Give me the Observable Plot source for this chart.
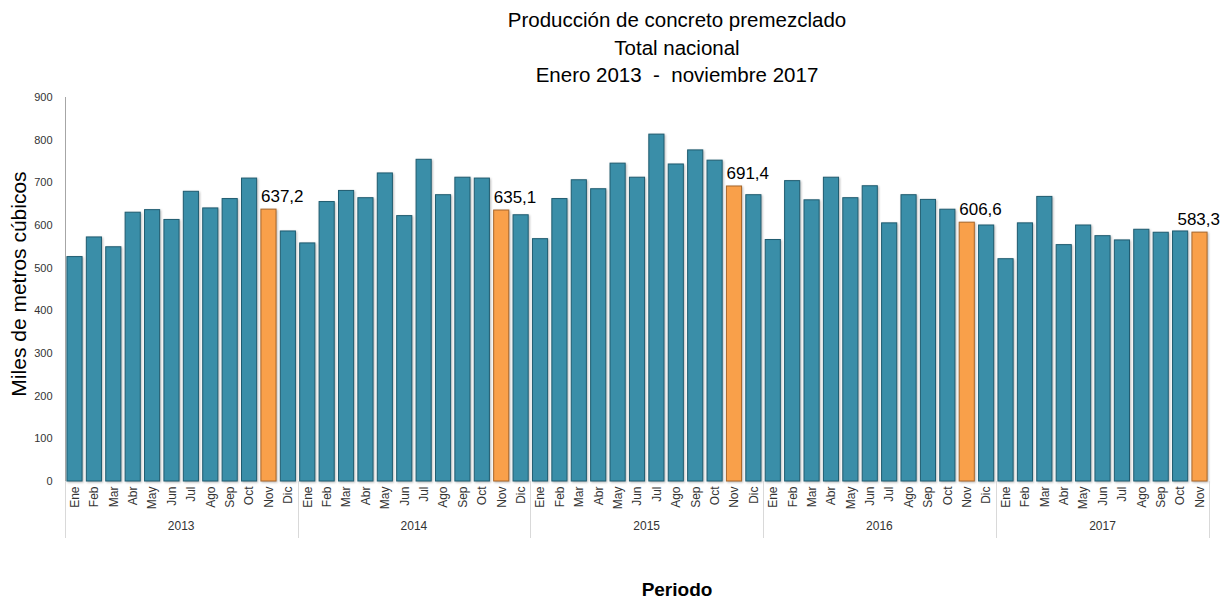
<!DOCTYPE html>
<html>
<head>
<meta charset="utf-8">
<script src="https://cdn.jsdelivr.net/npm/d3@7"></script>
<script src="https://cdn.jsdelivr.net/npm/@observablehq/plot@0.6"></script>
<style>
  html, body { margin: 0; padding: 0; background: #fff; overflow: hidden; }
  body { font-family: "Liberation Sans", Arial, sans-serif; }
  #wrap { position: relative; width: 1221px; height: 599px; }
  #title { position: absolute; left: 377px; width: 600px; top: 6px; text-align: center;
           font-size: 20.5px; line-height: 27.5px; color: #000; }
  #ylabel { position: absolute; left: -131px; width: 300px; top: 272px; height: 24px; line-height: 24px;
            text-align: center; font-size: 21px; color: #000; transform: rotate(-90deg); transform-origin: 50% 50%; }
  #xlabel { position: absolute; left: 577px; width: 200px; top: 578px; line-height: 24px; text-align: center;
            font-size: 19px; font-weight: bold; color: #000; }
  svg g[aria-label="bar"] rect { filter: drop-shadow(1.5px 1px 1px rgba(0,0,0,0.28)); }
  svg g[aria-label="y-axis tick label"] text { font-size: 11px; }
</style>
</head>
<body>
<div id="wrap">
  <div id="chart"></div>
  <div id="title">Producción de concreto premezclado<br>Total nacional<br>Enero 2013&nbsp; - &nbsp;noviembre 2017</div>
  <div id="ylabel">Miles de metros cúbicos</div>
  <div id="xlabel">Periodo</div>
</div>
<script>
// ---- Data ----
const years = [2013, 2014, 2015, 2016, 2017];
const months = ["Ene", "Feb", "Mar", "Abr", "May", "Jun", "Jul", "Ago", "Sep", "Oct", "Nov", "Dic"];
const values2013 = [526, 572, 549, 630, 636, 613, 679, 640, 662, 710, 637.2, 586];
const values2014 = [558, 655, 681, 664, 722, 622, 754, 671, 712, 710, 635.1, 624];
const values2015 = [568, 662, 706, 685, 745, 712, 813, 743, 776, 752, 691.4, 671];
const values2016 = [566, 704, 659, 712, 664, 692, 605, 671, 660, 637, 606.6, 600];
const values2017 = [521, 605, 667, 554, 600, 575, 565, 590, 583, 586, 583.3];
const highlightMonth = "Nov";
const yTicks = [0, 100, 200, 300, 400, 500, 600, 700, 800, 900];

const teal = "#3a8ea8", tealStroke = "#1f5c70";
const orange = "#f9a04a", orangeStroke = "#a8662a";

const seriesByYear = [values2013, values2014, values2015, values2016, values2017];
const rows = [];
years.forEach((yr, i) => {
  seriesByYear[i].forEach((v, j) => {
    rows.push({key: `${yr}-${months[j]}`, year: yr, month: months[j], value: v, hl: months[j] === highlightMonth});
  });
});
const keys = rows.map(d => d.key);
const fmt = v => v.toFixed(1).replace(".", ",");
const hlRows = rows.filter(d => d.hl);

function decor(...args) {
  const scales = args.find(a => a && typeof a === "object" && !Array.isArray(a) && typeof a.x === "function");
  const dims = args.find(a => a && typeof a === "object" && typeof a.marginLeft === "number");
  const x = scales.x;
  const step = x(keys[1]) - x(keys[0]);
  const bw = typeof x.bandwidth === "function" ? x.bandwidth() : step * 0.78;
  const gap = (step - bw) / 2;
  const y0 = dims.height - dims.marginBottom;
  const g = d3.create("svg:g");
  g.append("line")
    .attr("x1", dims.marginLeft + 0.5).attr("x2", dims.marginLeft + 0.5)
    .attr("y1", dims.marginTop).attr("y2", y0)
    .attr("stroke", "#a6a6a6").attr("stroke-width", 1);
  const bounds = [];
  years.forEach(yr => {
    const yrKeys = keys.filter(k => k.startsWith(yr + "-"));
    const left = x(yrKeys[0]) - gap;
    const right = x(yrKeys[yrKeys.length - 1]) + bw + gap;
    bounds.push(left);
    g.append("text")
      .attr("x", (left + right) / 2).attr("y", y0 + 45)
      .attr("text-anchor", "middle").attr("dominant-baseline", "central")
      .attr("font-size", 12).attr("fill", "#333")
      .text(yr);
    if (yr === years[years.length - 1]) bounds.push(right);
  });
  bounds.forEach(bx => {
    g.append("line")
      .attr("x1", Math.round(bx) + 0.5).attr("x2", Math.round(bx) + 0.5)
      .attr("y1", y0).attr("y2", y0 + 57)
      .attr("stroke", "#d9d9d9").attr("stroke-width", 1);
  });
  return g.node();
}

const chart = Plot.plot({
  width: 1221,
  height: 599,
  marginLeft: 65,
  marginRight: 12,
  marginTop: 97,
  marginBottom: 118,
  style: {fontFamily: "Liberation Sans, Arial, sans-serif", fontSize: "12px", color: "#333", background: "transparent"},
  x: {type: "band", domain: keys, round: false, paddingInner: 0.22, paddingOuter: 0.1, tickRotate: -90, tickSize: 0, tickPadding: 5,
      tickFormat: k => k.split("-")[1], label: null},
  y: {domain: [0, 900], ticks: yTicks, tickSize: 0, tickPadding: 13, label: null},
  marks: [
    Plot.barY(rows.filter(d => !d.hl), {x: "key", y: "value", fill: teal, stroke: tealStroke, strokeWidth: 1}),
    Plot.barY(hlRows, {x: "key", y: "value", fill: orange, stroke: orangeStroke, strokeWidth: 1}),
    Plot.text(hlRows.slice(0, -1), {x: "key", y: "value", text: d => fmt(d.value), textAnchor: "start", dx: -8, dy: -8,
      lineAnchor: "bottom", fontSize: 17, fill: "#000"}),
    Plot.text(hlRows.slice(-1), {x: "key", y: "value", text: d => fmt(d.value), textAnchor: "end", dx: 20, dy: -8,
      lineAnchor: "bottom", fontSize: 17, fill: "#000"}),
    decor
  ]
});
document.getElementById("chart").appendChild(chart);
</script>
</body>
</html>
